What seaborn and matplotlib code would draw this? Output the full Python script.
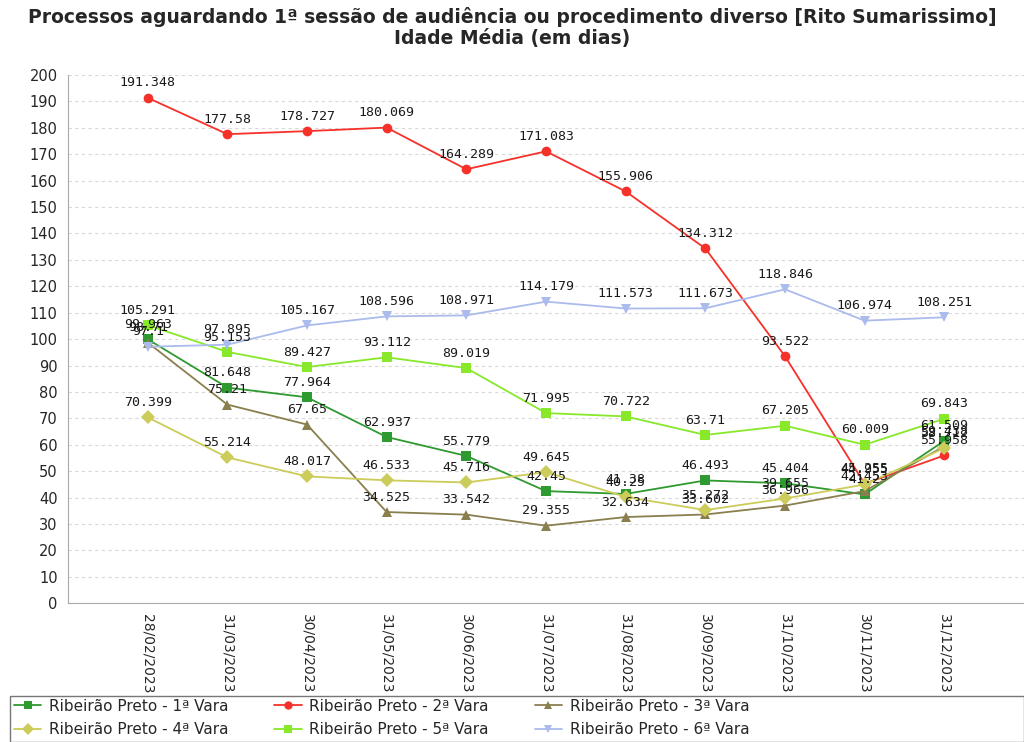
import pandas as pd
import seaborn as sns
import matplotlib.pyplot as plt
from matplotlib.patches import Rectangle

# Dates (x axis categories)
datas = ['28/02/2023', '31/03/2023', '30/04/2023', '31/05/2023', '30/06/2023', '31/07/2023',
         '31/08/2023', '30/09/2023', '31/10/2023', '30/11/2023', '31/12/2023']

vara1 = [99.963, 81.648, 77.964, 62.937, 55.779, 42.450, 41.38, 46.493, 45.404, 41.2, 61.509]
vara2 = [191.348, 177.58, 178.727, 180.069, 164.289, 171.083, 155.906, 134.312, 93.522, 45.255, 55.958]
vara3 = [98.71, 75.21, 67.65, 34.525, 33.542, 29.355, 32.634, 33.602, 36.966, 42.453, 59.438]
vara4 = [70.399, 55.214, 48.017, 46.533, 45.716, 49.645, 40.25, 35.272, 39.655, 44.955, 58.712]
vara5 = [105.291, 95.153, 89.427, 93.112, 89.019, 71.995, 70.722, 63.71, 67.205, 60.009, 69.843]
vara6 = [97.1, 97.895, 105.167, 108.596, 108.971, 114.179, 111.573, 111.673, 118.846, 106.974, 108.251]

nomes = ['Ribeirão Preto - 1ª Vara', 'Ribeirão Preto - 2ª Vara', 'Ribeirão Preto - 3ª Vara',
         'Ribeirão Preto - 4ª Vara', 'Ribeirão Preto - 5ª Vara', 'Ribeirão Preto - 6ª Vara']
series = [vara1, vara2, vara3, vara4, vara5, vara6]
cores = ['#2f9a2f', '#f5312a', '#8a7f4e', '#cccc5a', '#88e82a', '#aabbec']
marcadores = ['s', 'o', '^', 'D', 's', 'v']

rows = []
for nome, vals in zip(nomes, series):
    for i, v in enumerate(vals):
        rows.append({'idx': i, 'valor': v, 'vara': nome})
df = pd.DataFrame(rows)

sns.set_style('white')
plt.rcParams['font.family'] = ['DejaVu Sans']

fig = plt.figure(figsize=(10.24, 7.42), dpi=100)
ax = fig.add_axes([0.0664, 0.187, 0.9336, 0.712])

sns.lineplot(data=df, x='idx', y='valor', hue='vara', style='vara',
             palette=dict(zip(nomes, cores)), markers=dict(zip(nomes, marcadores)),
             dashes=False, markersize=7, markeredgewidth=0, linewidth=1.3,
             legend=False, ax=ax)

# data labels
for nome, vals in zip(nomes, series):
    for i, v in enumerate(vals):
        txt = f"{v:.3f}".rstrip('0').rstrip('.')
        ax.annotate(txt, (i, v), xytext=(0, 6), textcoords='offset points',
                    ha='center', va='bottom', fontsize=9.5, color='#1a1a1a',
                    family='DejaVu Sans Mono')

ax.set_xlim(-1, 11)
ax.set_ylim(0, 200)
ax.set_yticks(range(0, 201, 10))
ax.set_xticks(range(len(datas)))
ax.set_xticklabels(datas, rotation=270, fontsize=10)
ax.tick_params(axis='y', labelsize=10.5, length=4, color='#888888')
ax.tick_params(axis='x', length=4, color='#888888')
ax.set_xlabel('')
ax.set_ylabel('')
ax.yaxis.grid(True, linestyle=(0, (3, 3)), color='#d8d8d8', linewidth=0.8)
for s in ['top', 'right']:
    ax.spines[s].set_visible(False)
for s in ['left', 'bottom']:
    ax.spines[s].set_color('#aaaaaa')

fig.suptitle('Processos aguardando 1ª sessão de audiência ou procedimento diverso [Rito Sumarissimo]\nIdade Média (em dias)',
             fontsize=13.5, fontweight='bold', y=0.99, linespacing=1.1)

# legend
handles = [plt.Line2D([], [], color=c, marker=m, markersize=6, markeredgewidth=0, linewidth=1.3)
           for c, m in zip(cores, marcadores)]
ordem = [0, 3, 1, 4, 2, 5]
fig.legend([handles[i] for i in ordem], [nomes[i] for i in ordem], ncol=3, loc='lower left',
           bbox_to_anchor=(0.0, -0.012), frameon=False, fontsize=11,
           handlelength=1.8, handletextpad=0.5, columnspacing=3.0, labelspacing=0.55)
fig.add_artist(Rectangle((0.01, 0.0), 0.99, 0.062, transform=fig.transFigure,
                         fill=False, edgecolor='#777777', linewidth=1))

fig.savefig('out.png', dpi=100)
